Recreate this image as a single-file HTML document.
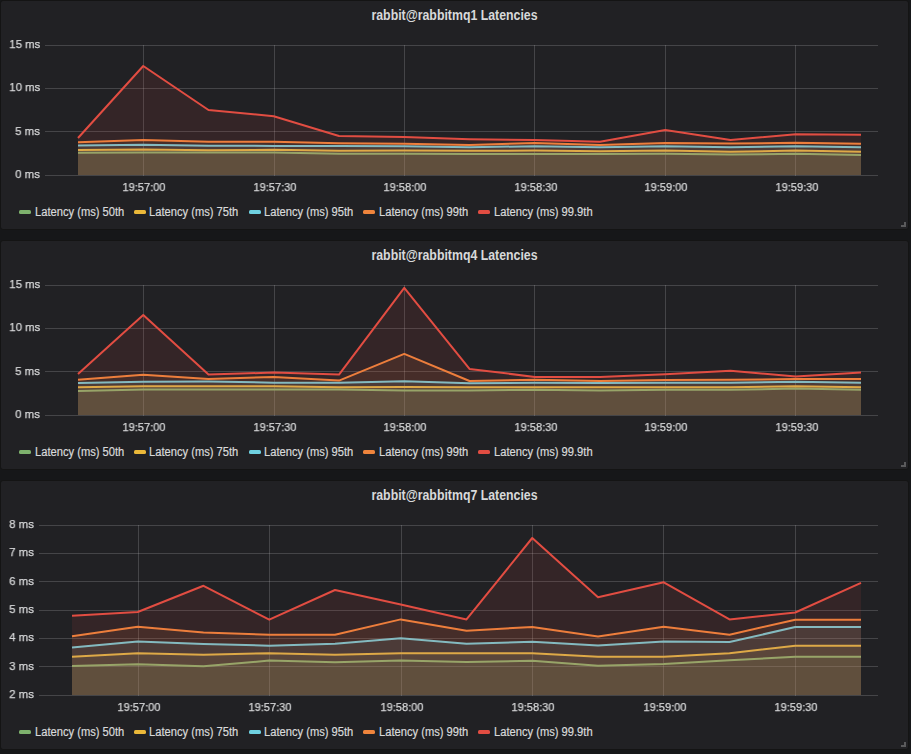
<!DOCTYPE html><html><head><meta charset="utf-8"><title>Latencies</title><style>

html,body{margin:0;padding:0;}
body{width:911px;height:754px;background:#161719;position:relative;overflow:hidden;font-family:"Liberation Sans",sans-serif;}
.panel{position:absolute;left:0;width:909px;box-sizing:border-box;background:#212124;border:1px solid #141414;border-radius:3px;}
.plot{position:absolute;left:-1px;top:-1px;}
.title{position:absolute;left:-1px;width:909px;top:6px;text-align:center;color:#d8d9da;font-size:13.8px;font-weight:bold;line-height:17px;white-space:nowrap;transform:scaleX(0.893);transform-origin:50% 0;}
.ylab{position:absolute;color:#d8d9da;font-size:11.5px;line-height:14px;white-space:nowrap;text-align:right;transform:scaleX(0.99);transform-origin:100% 0;will-change:transform;-webkit-text-stroke:0.25px #d8d9da;}
.xlab{position:absolute;width:80px;text-align:center;color:#d8d9da;font-size:11.5px;line-height:14px;white-space:nowrap;transform:scaleX(0.96);transform-origin:50% 0;will-change:transform;-webkit-text-stroke:0.25px #d8d9da;}
.lic{position:absolute;width:12px;height:4px;border-radius:1.5px;}
.ltx{position:absolute;font-size:12px;line-height:14px;color:#d8d9da;white-space:nowrap;-webkit-text-stroke:0.2px #d8d9da;transform:scaleX(0.93);transform-origin:0 0;}
.rh{position:absolute;right:2px;bottom:2px;width:5px;height:5px;}
.rh:before{content:"";position:absolute;right:0;bottom:0;width:5px;height:2px;background:#5a5a5c;}
.rh:after{content:"";position:absolute;right:0;bottom:0;width:2px;height:5px;background:#5a5a5c;}

</style></head><body>
<div class="panel" style="top:0px;height:230px">
<div class="title">rabbit@rabbitmq1 Latencies</div>
<svg class="plot" width="909" height="230" viewBox="0 0 909 230"><line x1="45" y1="45.5" x2="878" y2="45.5" stroke="rgba(200,200,200,0.22)" stroke-width="1"/><line x1="45" y1="88.5" x2="878" y2="88.5" stroke="rgba(200,200,200,0.22)" stroke-width="1"/><line x1="45" y1="131.5" x2="878" y2="131.5" stroke="rgba(200,200,200,0.22)" stroke-width="1"/><line x1="45" y1="175.5" x2="878" y2="175.5" stroke="rgba(200,200,200,0.22)" stroke-width="1"/><line x1="143.5" y1="45" x2="143.5" y2="176" stroke="rgba(200,200,200,0.22)" stroke-width="1"/><line x1="274.5" y1="45" x2="274.5" y2="176" stroke="rgba(200,200,200,0.22)" stroke-width="1"/><line x1="404.5" y1="45" x2="404.5" y2="176" stroke="rgba(200,200,200,0.22)" stroke-width="1"/><line x1="534.5" y1="45" x2="534.5" y2="176" stroke="rgba(200,200,200,0.22)" stroke-width="1"/><line x1="665.5" y1="45" x2="665.5" y2="176" stroke="rgba(200,200,200,0.22)" stroke-width="1"/><line x1="795.5" y1="45" x2="795.5" y2="176" stroke="rgba(200,200,200,0.22)" stroke-width="1"/><polygon points="78.00,175 78.00,152.70 143.25,152.50 208.50,152.60 273.75,152.50 339.00,153.70 404.25,153.80 469.50,154.10 534.75,154.10 600.00,154.10 665.25,153.80 730.50,154.50 795.75,153.80 861.00,154.90 861.00,175" fill="rgba(126,178,109,0.1)"/><polyline points="78.00,152.70 143.25,152.50 208.50,152.60 273.75,152.50 339.00,153.70 404.25,153.80 469.50,154.10 534.75,154.10 600.00,154.10 665.25,153.80 730.50,154.50 795.75,153.80 861.00,154.90" fill="none" stroke="#7EB26D" stroke-width="2" stroke-linejoin="round"/><polygon points="78.00,175 78.00,150.00 143.25,149.40 208.50,150.30 273.75,149.80 339.00,150.80 404.25,150.60 469.50,150.80 534.75,150.60 600.00,151.30 665.25,150.60 730.50,151.80 795.75,150.60 861.00,151.80 861.00,175" fill="rgba(234,184,57,0.1)"/><polyline points="78.00,150.00 143.25,149.40 208.50,150.30 273.75,149.80 339.00,150.80 404.25,150.60 469.50,150.80 534.75,150.60 600.00,151.30 665.25,150.60 730.50,151.80 795.75,150.60 861.00,151.80" fill="none" stroke="#EAB839" stroke-width="2" stroke-linejoin="round"/><polygon points="78.00,175 78.00,145.40 143.25,144.70 208.50,145.80 273.75,145.90 339.00,146.00 404.25,146.20 469.50,147.30 534.75,146.20 600.00,147.30 665.25,146.20 730.50,147.30 795.75,146.20 861.00,147.30 861.00,175" fill="rgba(110,208,224,0.1)"/><polyline points="78.00,145.40 143.25,144.70 208.50,145.80 273.75,145.90 339.00,146.00 404.25,146.20 469.50,147.30 534.75,146.20 600.00,147.30 665.25,146.20 730.50,147.30 795.75,146.20 861.00,147.30" fill="none" stroke="#6ED0E0" stroke-width="2" stroke-linejoin="round"/><polygon points="78.00,175 78.00,142.20 143.25,140.10 208.50,141.80 273.75,141.70 339.00,143.30 404.25,143.80 469.50,145.00 534.75,143.00 600.00,145.00 665.25,143.00 730.50,143.60 795.75,142.70 861.00,143.80 861.00,175" fill="rgba(239,132,60,0.1)"/><polyline points="78.00,142.20 143.25,140.10 208.50,141.80 273.75,141.70 339.00,143.30 404.25,143.80 469.50,145.00 534.75,143.00 600.00,145.00 665.25,143.00 730.50,143.60 795.75,142.70 861.00,143.80" fill="none" stroke="#EF843C" stroke-width="2" stroke-linejoin="round"/><polygon points="78.00,175 78.00,138.00 143.25,66.00 208.50,110.00 273.75,116.20 339.00,136.00 404.25,137.10 469.50,139.20 534.75,140.10 600.00,141.70 665.25,129.90 730.50,140.00 795.75,134.20 861.00,134.70 861.00,175" fill="rgba(226,77,66,0.1)"/><polyline points="78.00,138.00 143.25,66.00 208.50,110.00 273.75,116.20 339.00,136.00 404.25,137.10 469.50,139.20 534.75,140.10 600.00,141.70 665.25,129.90 730.50,140.00 795.75,134.20 861.00,134.70" fill="none" stroke="#E24D42" stroke-width="2" stroke-linejoin="round"/></svg>
<div class="ylab" style="top:36px;right:868px">15 ms</div>
<div class="ylab" style="top:79px;right:868px">10 ms</div>
<div class="ylab" style="top:123px;right:868px">5 ms</div>
<div class="ylab" style="top:166px;right:868px">0 ms</div>
<div class="xlab" style="top:178.5px;left:103px">19:57:00</div>
<div class="xlab" style="top:178.5px;left:234px">19:57:30</div>
<div class="xlab" style="top:178.5px;left:364px">19:58:00</div>
<div class="xlab" style="top:178.5px;left:495px">19:58:30</div>
<div class="xlab" style="top:178.5px;left:625px">19:59:00</div>
<div class="xlab" style="top:178.5px;left:756px">19:59:30</div>
<i class="lic" style="left:18.0px;top:209px;background:#7EB26D"></i>
<div class="ltx" style="left:33.6px;top:203.5px">Latency (ms) 50th</div>
<i class="lic" style="left:132.8px;top:209px;background:#EAB839"></i>
<div class="ltx" style="left:148.4px;top:203.5px">Latency (ms) 75th</div>
<i class="lic" style="left:247.6px;top:209px;background:#6ED0E0"></i>
<div class="ltx" style="left:263.2px;top:203.5px">Latency (ms) 95th</div>
<i class="lic" style="left:362.4px;top:209px;background:#EF843C"></i>
<div class="ltx" style="left:378.0px;top:203.5px">Latency (ms) 99th</div>
<i class="lic" style="left:477.2px;top:209px;background:#E24D42"></i>
<div class="ltx" style="left:492.8px;top:203.5px">Latency (ms) 99.9th</div>
<div class="rh"></div>
</div>
<div class="panel" style="top:240px;height:230px">
<div class="title">rabbit@rabbitmq4 Latencies</div>
<svg class="plot" width="909" height="230" viewBox="0 0 909 230"><line x1="45" y1="45.5" x2="878" y2="45.5" stroke="rgba(200,200,200,0.22)" stroke-width="1"/><line x1="45" y1="88.5" x2="878" y2="88.5" stroke="rgba(200,200,200,0.22)" stroke-width="1"/><line x1="45" y1="131.5" x2="878" y2="131.5" stroke="rgba(200,200,200,0.22)" stroke-width="1"/><line x1="45" y1="175.5" x2="878" y2="175.5" stroke="rgba(200,200,200,0.22)" stroke-width="1"/><line x1="143.5" y1="45" x2="143.5" y2="176" stroke="rgba(200,200,200,0.22)" stroke-width="1"/><line x1="274.5" y1="45" x2="274.5" y2="176" stroke="rgba(200,200,200,0.22)" stroke-width="1"/><line x1="404.5" y1="45" x2="404.5" y2="176" stroke="rgba(200,200,200,0.22)" stroke-width="1"/><line x1="534.5" y1="45" x2="534.5" y2="176" stroke="rgba(200,200,200,0.22)" stroke-width="1"/><line x1="665.5" y1="45" x2="665.5" y2="176" stroke="rgba(200,200,200,0.22)" stroke-width="1"/><line x1="795.5" y1="45" x2="795.5" y2="176" stroke="rgba(200,200,200,0.22)" stroke-width="1"/><polygon points="78.00,175 78.00,151.00 143.25,149.40 208.50,149.40 273.75,149.40 339.00,149.60 404.25,150.50 469.50,150.60 534.75,149.70 600.00,150.60 665.25,149.70 730.50,149.70 795.75,148.60 861.00,149.70 861.00,175" fill="rgba(126,178,109,0.1)"/><polyline points="78.00,151.00 143.25,149.40 208.50,149.40 273.75,149.40 339.00,149.60 404.25,150.50 469.50,150.60 534.75,149.70 600.00,150.60 665.25,149.70 730.50,149.70 795.75,148.60 861.00,149.70" fill="none" stroke="#7EB26D" stroke-width="2" stroke-linejoin="round"/><polygon points="78.00,175 78.00,147.30 143.25,146.20 208.50,146.20 273.75,146.20 339.00,147.20 404.25,147.10 469.50,147.20 534.75,147.30 600.00,147.30 665.25,147.30 730.50,147.20 795.75,146.20 861.00,147.30 861.00,175" fill="rgba(234,184,57,0.1)"/><polyline points="78.00,147.30 143.25,146.20 208.50,146.20 273.75,146.20 339.00,147.20 404.25,147.10 469.50,147.20 534.75,147.30 600.00,147.30 665.25,147.30 730.50,147.20 795.75,146.20 861.00,147.30" fill="none" stroke="#EAB839" stroke-width="2" stroke-linejoin="round"/><polygon points="78.00,175 78.00,143.00 143.25,141.70 208.50,141.50 273.75,142.70 339.00,142.70 404.25,141.20 469.50,143.30 534.75,142.70 600.00,143.10 665.25,142.70 730.50,142.80 795.75,141.70 861.00,142.70 861.00,175" fill="rgba(110,208,224,0.1)"/><polyline points="78.00,143.00 143.25,141.70 208.50,141.50 273.75,142.70 339.00,142.70 404.25,141.20 469.50,143.30 534.75,142.70 600.00,143.10 665.25,142.70 730.50,142.80 795.75,141.70 861.00,142.70" fill="none" stroke="#6ED0E0" stroke-width="2" stroke-linejoin="round"/><polygon points="78.00,175 78.00,139.80 143.25,134.70 208.50,139.00 273.75,136.90 339.00,140.60 404.25,113.90 469.50,141.00 534.75,139.80 600.00,140.90 665.25,140.10 730.50,139.80 795.75,139.00 861.00,139.00 861.00,175" fill="rgba(239,132,60,0.1)"/><polyline points="78.00,139.80 143.25,134.70 208.50,139.00 273.75,136.90 339.00,140.60 404.25,113.90 469.50,141.00 534.75,139.80 600.00,140.90 665.25,140.10 730.50,139.80 795.75,139.00 861.00,139.00" fill="none" stroke="#EF843C" stroke-width="2" stroke-linejoin="round"/><polygon points="78.00,175 78.00,133.90 143.25,75.00 208.50,134.50 273.75,132.60 339.00,134.60 404.25,47.80 469.50,128.90 534.75,136.90 600.00,136.90 665.25,134.20 730.50,130.80 795.75,136.60 861.00,132.60 861.00,175" fill="rgba(226,77,66,0.1)"/><polyline points="78.00,133.90 143.25,75.00 208.50,134.50 273.75,132.60 339.00,134.60 404.25,47.80 469.50,128.90 534.75,136.90 600.00,136.90 665.25,134.20 730.50,130.80 795.75,136.60 861.00,132.60" fill="none" stroke="#E24D42" stroke-width="2" stroke-linejoin="round"/></svg>
<div class="ylab" style="top:36px;right:868px">15 ms</div>
<div class="ylab" style="top:79px;right:868px">10 ms</div>
<div class="ylab" style="top:123px;right:868px">5 ms</div>
<div class="ylab" style="top:166px;right:868px">0 ms</div>
<div class="xlab" style="top:178.5px;left:103px">19:57:00</div>
<div class="xlab" style="top:178.5px;left:234px">19:57:30</div>
<div class="xlab" style="top:178.5px;left:364px">19:58:00</div>
<div class="xlab" style="top:178.5px;left:495px">19:58:30</div>
<div class="xlab" style="top:178.5px;left:625px">19:59:00</div>
<div class="xlab" style="top:178.5px;left:756px">19:59:30</div>
<i class="lic" style="left:18.0px;top:209px;background:#7EB26D"></i>
<div class="ltx" style="left:33.6px;top:203.5px">Latency (ms) 50th</div>
<i class="lic" style="left:132.8px;top:209px;background:#EAB839"></i>
<div class="ltx" style="left:148.4px;top:203.5px">Latency (ms) 75th</div>
<i class="lic" style="left:247.6px;top:209px;background:#6ED0E0"></i>
<div class="ltx" style="left:263.2px;top:203.5px">Latency (ms) 95th</div>
<i class="lic" style="left:362.4px;top:209px;background:#EF843C"></i>
<div class="ltx" style="left:378.0px;top:203.5px">Latency (ms) 99th</div>
<i class="lic" style="left:477.2px;top:209px;background:#E24D42"></i>
<div class="ltx" style="left:492.8px;top:203.5px">Latency (ms) 99.9th</div>
<div class="rh"></div>
</div>
<div class="panel" style="top:480px;height:270px">
<div class="title">rabbit@rabbitmq7 Latencies</div>
<svg class="plot" width="909" height="270" viewBox="0 0 909 270"><line x1="39" y1="45.5" x2="878" y2="45.5" stroke="rgba(200,200,200,0.22)" stroke-width="1"/><line x1="39" y1="73.5" x2="878" y2="73.5" stroke="rgba(200,200,200,0.22)" stroke-width="1"/><line x1="39" y1="101.5" x2="878" y2="101.5" stroke="rgba(200,200,200,0.22)" stroke-width="1"/><line x1="39" y1="130.5" x2="878" y2="130.5" stroke="rgba(200,200,200,0.22)" stroke-width="1"/><line x1="39" y1="158.5" x2="878" y2="158.5" stroke="rgba(200,200,200,0.22)" stroke-width="1"/><line x1="39" y1="186.5" x2="878" y2="186.5" stroke="rgba(200,200,200,0.22)" stroke-width="1"/><line x1="39" y1="215.5" x2="878" y2="215.5" stroke="rgba(200,200,200,0.22)" stroke-width="1"/><line x1="138.5" y1="45" x2="138.5" y2="216" stroke="rgba(200,200,200,0.22)" stroke-width="1"/><line x1="269.5" y1="45" x2="269.5" y2="216" stroke="rgba(200,200,200,0.22)" stroke-width="1"/><line x1="401.5" y1="45" x2="401.5" y2="216" stroke="rgba(200,200,200,0.22)" stroke-width="1"/><line x1="532.5" y1="45" x2="532.5" y2="216" stroke="rgba(200,200,200,0.22)" stroke-width="1"/><line x1="663.5" y1="45" x2="663.5" y2="216" stroke="rgba(200,200,200,0.22)" stroke-width="1"/><line x1="795.5" y1="45" x2="795.5" y2="216" stroke="rgba(200,200,200,0.22)" stroke-width="1"/><polygon points="72.00,215 72.00,186.00 137.75,184.20 203.50,186.20 269.25,180.60 335.00,182.30 400.75,180.60 466.50,182.00 532.25,180.70 598.00,185.80 663.75,183.90 729.50,180.20 795.25,176.80 861.00,176.80 861.00,215" fill="rgba(126,178,109,0.1)"/><polyline points="72.00,186.00 137.75,184.20 203.50,186.20 269.25,180.60 335.00,182.30 400.75,180.60 466.50,182.00 532.25,180.70 598.00,185.80 663.75,183.90 729.50,180.20 795.25,176.80 861.00,176.80" fill="none" stroke="#7EB26D" stroke-width="2" stroke-linejoin="round"/><polygon points="72.00,215 72.00,176.80 137.75,173.20 203.50,174.80 269.25,173.20 335.00,174.80 400.75,173.20 466.50,173.20 532.25,173.30 598.00,176.80 663.75,176.80 729.50,173.20 795.25,165.70 861.00,165.70 861.00,215" fill="rgba(234,184,57,0.1)"/><polyline points="72.00,176.80 137.75,173.20 203.50,174.80 269.25,173.20 335.00,174.80 400.75,173.20 466.50,173.20 532.25,173.30 598.00,176.80 663.75,176.80 729.50,173.20 795.25,165.70 861.00,165.70" fill="none" stroke="#EAB839" stroke-width="2" stroke-linejoin="round"/><polygon points="72.00,215 72.00,167.40 137.75,161.60 203.50,164.00 269.25,165.70 335.00,163.80 400.75,158.30 466.50,163.80 532.25,161.80 598.00,165.50 663.75,161.60 729.50,162.00 795.25,147.10 861.00,147.10 861.00,215" fill="rgba(110,208,224,0.1)"/><polyline points="72.00,167.40 137.75,161.60 203.50,164.00 269.25,165.70 335.00,163.80 400.75,158.30 466.50,163.80 532.25,161.80 598.00,165.50 663.75,161.60 729.50,162.00 795.25,147.10 861.00,147.10" fill="none" stroke="#6ED0E0" stroke-width="2" stroke-linejoin="round"/><polygon points="72.00,215 72.00,156.20 137.75,146.80 203.50,152.60 269.25,154.70 335.00,154.70 400.75,139.40 466.50,150.80 532.25,146.90 598.00,156.50 663.75,146.80 729.50,154.70 795.25,139.70 861.00,139.70 861.00,215" fill="rgba(239,132,60,0.1)"/><polyline points="72.00,156.20 137.75,146.80 203.50,152.60 269.25,154.70 335.00,154.70 400.75,139.40 466.50,150.80 532.25,146.90 598.00,156.50 663.75,146.80 729.50,154.70 795.25,139.70 861.00,139.70" fill="none" stroke="#EF843C" stroke-width="2" stroke-linejoin="round"/><polygon points="72.00,215 72.00,135.80 137.75,132.00 203.50,105.80 269.25,139.70 335.00,110.00 400.75,124.60 466.50,139.40 532.25,58.00 598.00,117.20 663.75,102.30 729.50,139.40 795.25,132.50 861.00,102.80 861.00,215" fill="rgba(226,77,66,0.1)"/><polyline points="72.00,135.80 137.75,132.00 203.50,105.80 269.25,139.70 335.00,110.00 400.75,124.60 466.50,139.40 532.25,58.00 598.00,117.20 663.75,102.30 729.50,139.40 795.25,132.50 861.00,102.80" fill="none" stroke="#E24D42" stroke-width="2" stroke-linejoin="round"/></svg>
<div class="ylab" style="top:36px;right:874px">8 ms</div>
<div class="ylab" style="top:64px;right:874px">7 ms</div>
<div class="ylab" style="top:93px;right:874px">6 ms</div>
<div class="ylab" style="top:121px;right:874px">5 ms</div>
<div class="ylab" style="top:149px;right:874px">4 ms</div>
<div class="ylab" style="top:178px;right:874px">3 ms</div>
<div class="ylab" style="top:206px;right:874px">2 ms</div>
<div class="xlab" style="top:218.5px;left:98px">19:57:00</div>
<div class="xlab" style="top:218.5px;left:229px">19:57:30</div>
<div class="xlab" style="top:218.5px;left:361px">19:58:00</div>
<div class="xlab" style="top:218.5px;left:492px">19:58:30</div>
<div class="xlab" style="top:218.5px;left:624px">19:59:00</div>
<div class="xlab" style="top:218.5px;left:755px">19:59:30</div>
<i class="lic" style="left:18.0px;top:249px;background:#7EB26D"></i>
<div class="ltx" style="left:33.6px;top:243.5px">Latency (ms) 50th</div>
<i class="lic" style="left:132.8px;top:249px;background:#EAB839"></i>
<div class="ltx" style="left:148.4px;top:243.5px">Latency (ms) 75th</div>
<i class="lic" style="left:247.6px;top:249px;background:#6ED0E0"></i>
<div class="ltx" style="left:263.2px;top:243.5px">Latency (ms) 95th</div>
<i class="lic" style="left:362.4px;top:249px;background:#EF843C"></i>
<div class="ltx" style="left:378.0px;top:243.5px">Latency (ms) 99th</div>
<i class="lic" style="left:477.2px;top:249px;background:#E24D42"></i>
<div class="ltx" style="left:492.8px;top:243.5px">Latency (ms) 99.9th</div>
<div class="rh"></div>
</div>
</body></html>
